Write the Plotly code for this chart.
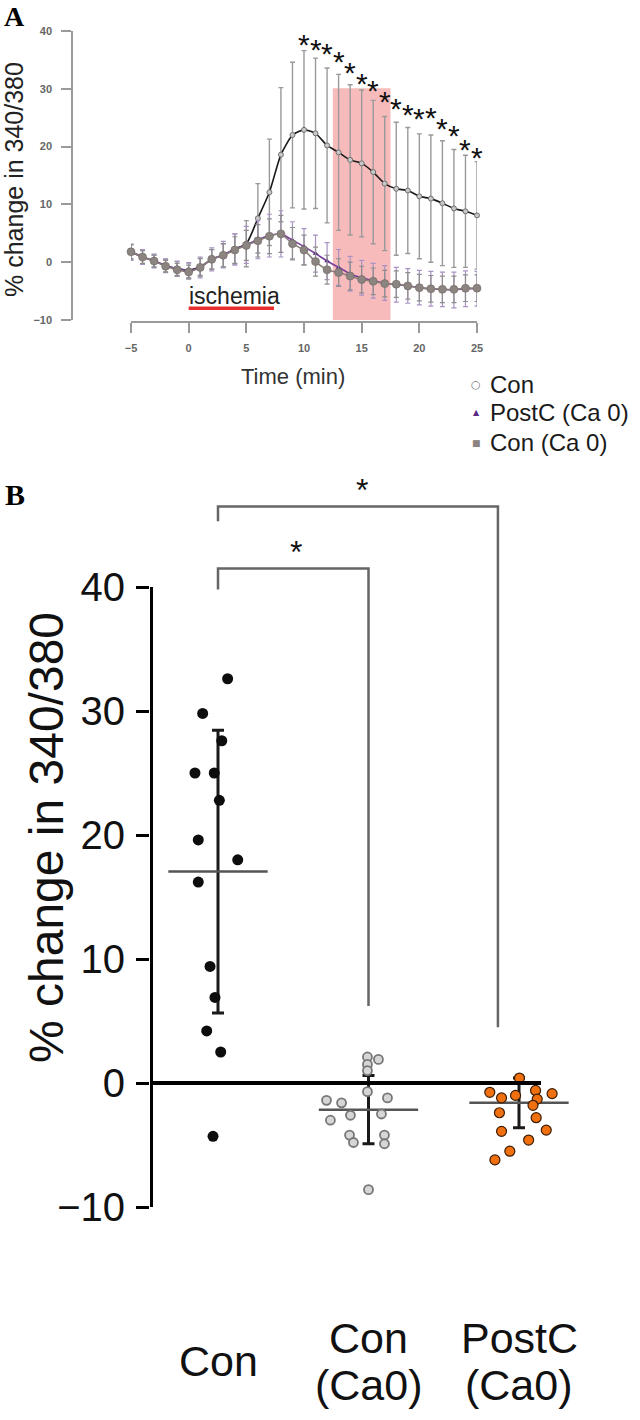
import plotly.graph_objects as go

# ---------------- Panel A data ----------------
time_min = list(range(-5, 26))
con_mean = [1.8, 0.9, 0.2, -0.6, -1.1, -1.4, -0.8, 0.5, 1.2, 2.3, 3.2, 7.6, 12.1, 18.6, 22.0, 22.9,
            22.3, 20.2, 19.0, 17.7, 17.1, 15.6, 13.6, 12.7, 12.4, 11.4, 11.0, 10.2, 9.3, 8.8, 8.1]
con_err = [1.3, 1.2, 1.1, 1.1, 1.2, 1.3, 1.5, 1.7, 2.0, 2.6, 4.0, 6.0, 9.2, 11.6, 12.6, 13.7,
           13.0, 13.4, 13.5, 13.0, 12.7, 12.4, 11.6, 11.5, 10.9, 10.8, 11.0, 10.8, 10.2, 9.7, 9.3]
postc_mean = [1.7, 0.9, 0.2, -0.6, -1.1, -1.5, -0.9, 0.5, 1.3, 2.2, 3.0, 3.9, 4.6, 4.9, 3.8, 2.7,
              1.5, 0.2, -0.9, -2.0, -2.7, -3.2, -3.6, -3.9, -4.1, -4.4, -4.6, -4.7, -4.8, -4.6, -4.6]
postc_err = [1.4, 1.3, 1.2, 1.2, 1.3, 1.4, 1.8, 2.0, 2.3, 2.7, 3.2, 3.3, 3.7, 4.0, 3.2, 3.1,
             3.2, 3.2, 3.1, 3.0, 3.0, 3.0, 3.0, 3.0, 3.0, 3.0, 3.0, 3.0, 3.1, 3.1, 3.0]
conca_mean = [1.8, 0.9, 0.2, -0.7, -1.3, -1.7, -0.9, 0.5, 1.2, 2.1, 2.9, 3.7, 4.5, 4.9, 3.2, 2.1,
              0.1, -1.3, -1.8, -2.4, -3.0, -3.3, -3.7, -3.8, -4.1, -4.4, -4.6, -4.7, -4.7, -4.5, -4.5]
conca_err = [1.2, 1.1, 1.0, 1.0, 1.1, 1.2, 1.5, 1.7, 2.0, 2.3, 2.6, 2.8, 3.0, 3.2, 2.8, 2.6,
             2.5, 2.5, 2.4, 2.4, 2.3, 2.3, 2.3, 2.3, 2.3, 2.3, 2.3, 2.3, 2.3, 2.3, 2.3]
star_time = list(range(10, 26))
star_y = [38.8, 38.0, 37.4, 36.0, 34.1, 32.2, 30.9, 29.0, 27.8, 26.7, 26.0, 26.2, 24.3, 23.1, 20.7, 19.3]
xticks_a = [-5, 0, 5, 10, 15, 20, 25]
yticks_a = [-10, 0, 10, 20, 30, 40]
ischemia_span = [0, 7.4]
ischemia_level = -7.95
shade_span = [12.5, 17.5]
shade_top = 30.1
legend_labels = ["Con", "PostC (Ca 0)", "Con (Ca 0)"]
legend_symbols = ["○", "▲", "■"]

# ---------------- Panel B data ----------------
categories = ["Con", "Con\n(Ca0)", "PostC\n(Ca0)"]
con_vals = [32.6, 29.8, 27.6, 25.0, 25.0, 22.8, 19.6, 18.0, 16.2, 9.4, 6.9, 4.2, 2.5, -4.3]
con_jit = [0.064, -0.102, 0.025, -0.153, -0.025, 0.009, -0.131, 0.131, -0.131, -0.053, -0.020, -0.075, 0.018, -0.033]
conca_vals = [2.1, 1.9, 1.5, 1.0, -0.7, -1.4, -1.6, -1.2, -2.6, -2.5, -3.0, -4.2, -4.8, -4.2, -4.9, -8.6]
conca_jit = [-0.007, 0.066, -0.007, -0.007, -0.007, -0.279, -0.179, 0.126, -0.120, 0.086, -0.253, -0.126, -0.100, 0.106, 0.106, 0.0]
postc_vals = [0.4, -0.75, -1.2, -1.0, -0.6, -1.3, -0.86, -1.8, -2.4, -2.8, -3.9, -3.8, -4.6, -5.5, -6.2]
postc_jit = [0.003, -0.194, -0.116, -0.023, 0.110, 0.121, 0.220, 0.093, -0.130, 0.114, -0.116, 0.181, 0.064, -0.061, -0.160]
group_mean = [17.05, -2.15, -1.6]
group_sd = [11.4, 2.75, 2.0]
yticks_b = [-10, 0, 10, 20, 30, 40]
sig_inner = dict(start=1, end=2.0, top=41.5, left_drop=39.8, right_bottom=6.2, star_x=1.52, star_y=43.4)
sig_outer = dict(start=1, end=2.86, top=46.5, left_drop=45.3, right_bottom=4.5, star_x=1.96, star_y=48.4)

# ---------------- layout helpers ----------------
W, H = 640, 1420
def fx(p):
    return p / W
def fy(p):
    return 1 - p / H

FONT = "Liberation Sans, Arial, sans-serif"
SERIF = "Liberation Serif, Times New Roman, serif"

fig = go.Figure()

# ---------- Panel A traces ----------
fig.add_trace(go.Scatter(
    x=time_min, y=con_mean, mode="lines+markers", xaxis="x", yaxis="y",
    line=dict(color="#1a1a1a", width=1.6, shape="spline", smoothing=0.6),
    marker=dict(symbol="circle", size=5, color="#c8c8c8", line=dict(color="#6f6f6f", width=1)),
    error_y=dict(type="data", array=con_err, color="#9a9a9a", thickness=1.4, width=2.5),
    showlegend=False, cliponaxis=False))
fig.add_trace(go.Scatter(
    x=time_min, y=postc_mean, mode="lines+markers", xaxis="x", yaxis="y",
    line=dict(color="#7a3f9c", width=1.6, shape="spline", smoothing=0.6),
    marker=dict(symbol="triangle-up", size=5, color="#5a2a84"),
    error_y=dict(type="data", array=postc_err, color="#a892c4", thickness=1.2, width=2.5),
    showlegend=False, cliponaxis=False))
fig.add_trace(go.Scatter(
    x=time_min, y=conca_mean, mode="lines+markers", xaxis="x", yaxis="y",
    line=dict(color="#8a807c", width=1.6, shape="spline", smoothing=0.6),
    marker=dict(symbol="circle", size=8, color="#8c8480", line=dict(color="#6e6662", width=0.6)),
    error_y=dict(type="data", array=conca_err, color="#8d8d8d", thickness=1.2, width=2.5),
    showlegend=False, cliponaxis=False))

# ---------- Panel B traces ----------
gx = [1, 2, 3]
fig.add_trace(go.Scatter(
    x=gx, y=group_mean, mode="markers", xaxis="x2", yaxis="y2",
    marker=dict(size=1, color="rgba(0,0,0,0)"),
    error_y=dict(type="data", array=group_sd, color="#1a1a1a", thickness=3, width=6),
    error_x=dict(type="data", array=[0.33, 0.33, 0.33], color="#555555", thickness=2.5, width=0),
    showlegend=False, cliponaxis=False))
fig.add_trace(go.Scatter(
    x=[1 + j for j in con_jit], y=con_vals, mode="markers", xaxis="x2", yaxis="y2",
    marker=dict(size=11, color="#0d0d0d"), showlegend=False, cliponaxis=False))
fig.add_trace(go.Scatter(
    x=[2 + j for j in conca_jit], y=conca_vals, mode="markers", xaxis="x2", yaxis="y2",
    marker=dict(size=9, color="#d6d6d6", line=dict(color="#777777", width=1.8)),
    showlegend=False, cliponaxis=False))
fig.add_trace(go.Scatter(
    x=[3 + j for j in postc_jit], y=postc_vals, mode="markers", xaxis="x2", yaxis="y2",
    marker=dict(size=10, color="#f07010", line=dict(color="#3b1d05", width=1.2)),
    showlegend=False, cliponaxis=False))

# ---------- shapes ----------
shapes = []
shapes.append(dict(type="rect", xref="x", yref="y", x0=shade_span[0], x1=shade_span[1],
                   y0=yticks_a[0], y1=shade_top, fillcolor="rgba(242,120,120,0.5)",
                   line=dict(width=0), layer="below"))
shapes.append(dict(type="line", xref="x", yref="y", x0=ischemia_span[0], x1=ischemia_span[1],
                   y0=ischemia_level, y1=ischemia_level, line=dict(color="#e62e2e", width=3.5)))

B_UNIT = 150.5  # px per category unit
xb_min = 1 - (218 - 150) / B_UNIT
xb_max = 1 + (580 - 218) / B_UNIT
shapes.append(dict(type="line", xref="x2", yref="y2", x0=xb_min + 1.5 / B_UNIT, x1=xb_min + 1.5 / B_UNIT,
                   y0=yticks_b[0], y1=yticks_b[-1], line=dict(color="#000", width=3)))
shapes.append(dict(type="line", xref="x2", yref="y2", x0=xb_min, x1=1 + (541 - 218) / B_UNIT,
                   y0=0, y1=0, line=dict(color="#000", width=4)))
for sig in (sig_inner, sig_outer):
    shapes.append(dict(type="path", xref="x2", yref="y2",
                       path=f"M{sig['start']},{sig['left_drop']} L{sig['start']},{sig['top']} "
                            f"L{sig['end']},{sig['top']} L{sig['end']},{sig['right_bottom']}",
                       line=dict(color="#666666", width=2.5)))

# ---------- annotations ----------
ann = []
def paper_text(xp, yp, text, size, color="#111", family=FONT, xanchor="center", angle=0):
    ann.append(dict(x=fx(xp), y=fy(yp), xref="paper", yref="paper", text=text, showarrow=False,
                    xanchor=xanchor, yanchor="middle", textangle=angle,
                    font=dict(family=family, size=size, color=color)))

for t, s in zip(star_time, star_y):
    ann.append(dict(x=t, y=s, xref="x", yref="y", text="*", showarrow=False, yshift=-7,
                    xanchor="center", yanchor="middle",
                    font=dict(family=FONT, size=30, color="#111")))
ann.append(dict(x=ischemia_span[0], y=-5.9, xref="x", yref="y", text="ischemia", showarrow=False,
                xanchor="left", yanchor="middle", xshift=-2, font=dict(family=FONT, size=23, color="#222")))
paper_text(14, 180, "% change in 340/380", 25, "#222", angle=-90)
paper_text(293, 377, "Time (min)", 22, "#333")
leg_y = [385, 412, 443]
leg_col = ["#777777", "#5a2a84", "#8c8480"]
leg_size = [11, 8, 9]
for lab, sym, yy, c, sz in zip(legend_labels, legend_symbols, leg_y, leg_col, leg_size):
    paper_text(476, yy, sym, sz, c, family="DejaVu Sans")
    paper_text(488, yy, lab, 24, "#1a1a1a", xanchor="left")
paper_text(14, 17, "<b>A</b>", 28, "#000", family=SERIF)
paper_text(15, 494, "<b>B</b>", 30, "#000", family=SERIF)
paper_text(46, 838, "% change in 340/380", 48, "#111", angle=-90)
for i, cat in enumerate(categories):
    lines = cat.split("\n")
    ys = [1361] if len(lines) == 1 else [1338, 1385]
    for ln, yy in zip(lines, ys):
        ann.append(dict(x=gx[i], y=fy(yy), xref="x2", yref="paper", text=ln, showarrow=False,
                        xanchor="center", yanchor="middle",
                        font=dict(family=FONT, size=43, color="#111")))
for sig in (sig_inner, sig_outer):
    ann.append(dict(x=sig["star_x"], y=sig["star_y"], xref="x2", yref="y2", text="*", showarrow=False,
                    xanchor="center", yanchor="middle", yshift=-7,
                    font=dict(family=FONT, size=32, color="#111")))

fig.update_layout(
    width=W, height=H, margin=dict(l=0, r=0, t=0, b=0, autoexpand=False),
    paper_bgcolor="white", plot_bgcolor="rgba(0,0,0,0)", showlegend=False,
    xaxis=dict(domain=[fx(131), fx(477)], range=[-5, 25], anchor="free", position=fy(322),
               tickvals=xticks_a, ticks="outside", ticklen=10, tickwidth=1.5, tickcolor="#9a9a9a",
               showline=True, linecolor="#9a9a9a", linewidth=1.5, showgrid=False, zeroline=False,
               ticklabelstandoff=6,
               tickfont=dict(family=FONT, size=11, color="#666", weight="bold")),
    yaxis=dict(domain=[fy(320), fy(31)], range=[-10, 40], anchor="free", position=fx(72),
               tickvals=yticks_a, ticks="outside", ticklen=10, tickwidth=1.5, tickcolor="#9a9a9a",
               showline=True, linecolor="#9a9a9a", linewidth=1.5, showgrid=False, zeroline=False,
               ticklabelstandoff=7,
               tickfont=dict(family=FONT, size=11, color="#666", weight="bold")),
    xaxis2=dict(domain=[fx(150), fx(580)], range=[xb_min, xb_max], anchor="y2",
                showline=False, showgrid=False, zeroline=False, showticklabels=False, ticks=""),
    yaxis2=dict(domain=[fy(1207), fy(463)], range=[-10, 50], anchor="x2",
                tickvals=yticks_b, ticks="outside", ticklen=13, tickwidth=3, tickcolor="#000",
                showline=False, showgrid=False, zeroline=False, ticklabelstandoff=3,
                tickfont=dict(family=FONT, size=40, color="#111")),
    shapes=shapes, annotations=ann,
)

# remove the browser's default 8px page margin so the figure starts at the window corner
fig.write_html("out.html", config={"displayModeBar": False},
               post_script="document.body.style.margin='0px';")
